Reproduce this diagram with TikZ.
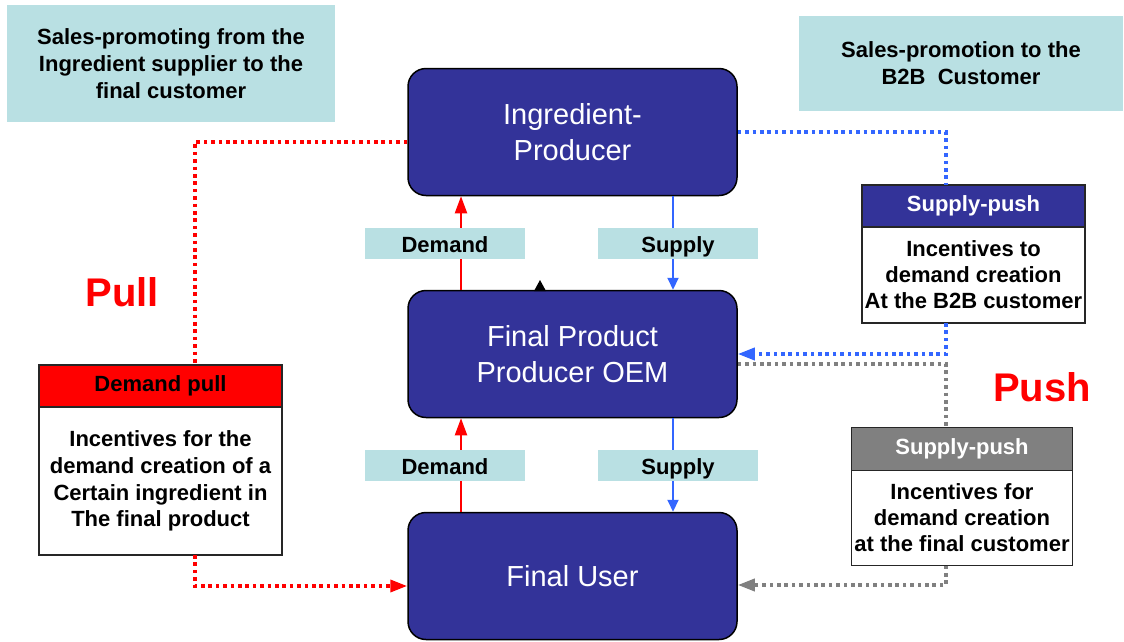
\documentclass[tikz,border=0pt]{standalone}
\usepackage{fontspec}
\setmainfont{Liberation Sans}
\usetikzlibrary{arrows.meta,positioning,calc}
\definecolor{oemblue}{RGB}{51,51,153}
\definecolor{notecyan}{RGB}{185,224,227}
\definecolor{pushblue}{RGB}{51,102,255}
\definecolor{pushgray}{RGB}{128,128,128}
\begin{document}
\begin{tikzpicture}[x=1pt,y=-1pt,
  actor/.style={draw=black,line width=1.5pt,fill=oemblue,rounded corners=18pt,minimum width=329pt,minimum height=127pt,text=white,align=center,inner sep=0pt,font=\fontsize{29}{36}\selectfont},
  note/.style={fill=notecyan,align=center,inner sep=0pt,font=\bfseries\fontsize{22}{27}\selectfont},
  flowlabel/.style={note,minimum width=160pt,minimum height=31pt,text height=18pt,text depth=0pt},
  headbox/.style={draw=black!85,line width=1.5pt,outer sep=0pt,align=center,inner sep=0pt,font=\bfseries\fontsize{22}{27}\selectfont},
  bodybox/.style={draw=black!85,line width=1.5pt,outer sep=0pt,fill=white,align=center,inner sep=0pt},
  bigword/.style={text=red,font=\bfseries\fontsize{40}{48}\selectfont},
  tip/.style={-{Triangle[length=17pt,width=12pt]}},
  dots/.style={line width=3.6pt,dash pattern=on 3.6pt off 3.8pt},
]
\useasboundingbox (0,0) rectangle (1124,641);

% Shape: notes
\node[note,minimum width=328pt,minimum height=117pt] (salesleft) at (171,63.5) {Sales-promoting from the\\Ingredient supplier to the\\final customer};
\node[note,minimum width=324pt,minimum height=95pt] (salesright) at (961,63.5) {Sales-promotion to the\\B2B\ \ Customer};

% Shape: producers
\node[actor] (ingr) at (572.5,132) {Ingredient-\\Producer};
\node[actor] (oem) at (572.5,354) {Final Product\\Producer OEM};
\node[actor] (user) at (572.5,576) {Final User};

\coordinate (demx) at (461,0);
\coordinate (supx) at (673,0);
\coordinate (pullx) at (195,0);
\coordinate (pushx) at (946,0);

% Straight Lines: demand and supply
\draw[red,line width=2pt,tip] (oem.north -| demx) -- (ingr.south -| demx);
\draw[red,line width=2pt,tip] (user.north -| demx) -- (oem.south -| demx);
\draw[pushblue,line width=2pt,-{Triangle[length=12pt,width=11pt]}] (ingr.south -| supx) -- (oem.north -| supx);
\draw[pushblue,line width=2pt,-{Triangle[length=12pt,width=11pt]}] (oem.south -| supx) -- (user.north -| supx);
\fill (534,291) -- (546,291) -- (540,280) -- cycle;

% Text Node
\node[flowlabel] (dem1) at (445,243.5) {Demand};
\node[flowlabel] (sup1) at (678,243.5) {Supply};
\node[flowlabel] (dem2) at (445,465.5) {Demand};
\node[flowlabel] (sup2) at (678,465.5) {Supply};

\node[bigword] (pull) at (122,292) {Pull};
\node[bigword] (push) at (1042,387) {Push};

% Shape: incentive boxes
\node[headbox,fill=red,minimum width=243pt,minimum height=42pt] (pullhead) at (160.5,386) {Demand pull};
\node[bodybox,minimum width=243pt,minimum height=148pt,below=0pt of pullhead,font=\bfseries\fontsize{22}{26.7}\selectfont] (pullbody) {Incentives for the\\demand creation of a\\Certain ingredient in\\The final product};

\node[headbox,fill=oemblue,text=white,minimum width=223pt,minimum height=42pt] (b2bhead) at (973.5,206) {Supply-push};
\node[bodybox,minimum width=223pt,minimum height=96pt,below=0pt of b2bhead,font=\bfseries\fontsize{22}{26}\selectfont] (b2bbody) {Incentives to\\demand creation\\At the B2B customer};

\node[headbox,fill=pushgray,text=white,minimum width=221pt,minimum height=43pt] (endhead) at (962,449) {Supply-push};
\node[bodybox,minimum width=221pt,minimum height=95pt,below=0pt of endhead,font=\bfseries\fontsize{22}{26}\selectfont] (endbody) {Incentives for\\demand creation\\at the final customer};

% Straight Lines: pull and push paths
\draw[dots,red] ($(ingr.west)+(0,10)$) -| (pullx |- pullhead.north);
\draw[dots,red,tip] (pullbody.south -| pullx) |- ($(user.west)+(0,10)$);
\draw[dots,pushblue] (ingr.east) -| (pushx |- b2bhead.north);
\draw[dots,pushblue,tip] (b2bbody.south -| pushx) |- (oem.east);
\draw[dots,pushgray] ($(oem.east)+(0,10)$) -| (pushx |- endhead.north);
\draw[dots,pushgray,tip] (endbody.south -| pushx) |- ($(user.east)+(0,9)$);

\end{tikzpicture}
\end{document}
